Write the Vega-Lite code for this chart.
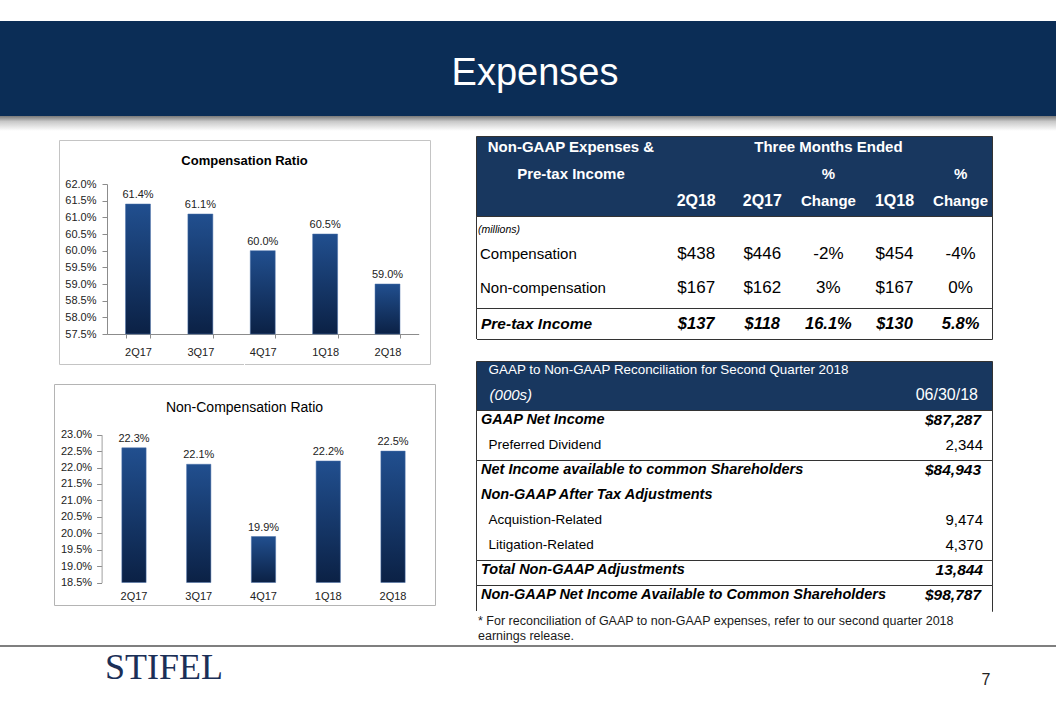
{
  "$schema": "https://vega.github.io/schema/vega-lite/v6.json",
  "padding": 0,
  "background": "white",
  "spacing": 0,
  "config": {
    "font": "Liberation Sans",
    "view": {"stroke": null},
    "concat": {"spacing": 0},
    "axis": {"grid": false}
  },
  "vconcat": [
    {
      "width": 1056,
      "height": 135,
      "data": {"values": [{"title": "Expenses"}]},
      "layer": [
        {
          "mark": {
            "type": "rect",
            "color": {
              "gradient": "linear", "x1": 0, "y1": 0, "x2": 0, "y2": 1,
              "stops": [
                {"offset": 0, "color": "#ffffff"},
                {"offset": 0.155, "color": "#ffffff"},
                {"offset": 0.157, "color": "#0b2d56"},
                {"offset": 0.857, "color": "#0b2d56"},
                {"offset": 0.86, "color": "#7a7a7a"},
                {"offset": 0.9, "color": "#c8c8c8"},
                {"offset": 0.97, "color": "#ffffff"},
                {"offset": 1, "color": "#ffffff"}
              ]
            }
          },
          "encoding": {}
        },
        {
          "mark": {"type": "text", "fontSize": 38, "color": "#ffffff", "baseline": "alphabetic", "dy": 17.5, "dx": 7},
          "encoding": {"text": {"field": "title"}}
        }
      ]
    },
    {
      "hconcat": [
        {"width": 14, "height": 1, "view": {"fill": "#ffffff"}, "data": {"values": []}, "mark": "point"},
        {
          "vconcat": [
            {"width": 1, "height": 4, "view": {"fill": "#ffffff"}, "data": {"values": []}, "mark": "point"},
            {
              "width": 371,
              "height": 224,
              "view": {"stroke": "#c4c4c4", "strokeWidth": 1},
              "title": {"text": "Compensation Ratio", "fontSize": 13, "fontWeight": "bold", "offset": -34, "baseline": "middle", "color": "#000000", "anchor": "middle"},
              "data": {"values": [
                {"quarter": "2Q17", "ratio": 61.4, "label": "61.4%"},
                {"quarter": "3Q17", "ratio": 61.1, "label": "61.1%"},
                {"quarter": "4Q17", "ratio": 60.0, "label": "60.0%"},
                {"quarter": "1Q18", "ratio": 60.5, "label": "60.5%"},
                {"quarter": "2Q18", "ratio": 59.0, "label": "59.0%"}
              ]},
              "encoding": {
                "x": {
                  "field": "quarter", "type": "ordinal", "sort": null,
                  "scale": {"range": [47.8, 359.7], "paddingInner": 0.6, "paddingOuter": 0.3},
                  "axis": {"orient": "bottom", "offset": -30, "title": null, "labelAngle": 0, "domainColor": "#8c8c8c", "tickColor": "#8c8c8c", "tickSize": 4, "tickBand": "extent", "labelPadding": 8, "labelFontSize": 11, "labelColor": "#222222"}
                },
                "y": {
                  "field": "ratio", "type": "quantitative",
                  "scale": {"domain": [57.5, 62], "range": [194, 44], "zero": false, "nice": false},
                  "axis": {"orient": "left", "offset": -48, "title": null, "values": [57.5, 58, 58.5, 59, 59.5, 60, 60.5, 61, 61.5, 62], "labelExpr": "format(datum.value, '.1f') + '%'", "domainColor": "#8c8c8c", "tickColor": "#8c8c8c", "tickSize": 5, "labelPadding": 6, "labelFontSize": 11, "labelColor": "#222222", "grid": false}
                }
              },
              "layer": [
                {
                  "mark": {
                    "type": "bar", "stroke": "#4a70aa", "strokeWidth": 0.5,
                    "color": {"gradient": "linear", "x1": 0, "y1": 0, "x2": 0, "y2": 1, "stops": [{"offset": 0, "color": "#214f8f"}, {"offset": 1, "color": "#0b2145"}]}
                  },
                  "encoding": {"y2": {"datum": 57.5}}
                },
                {
                  "mark": {"type": "text", "baseline": "bottom", "dy": -4, "fontSize": 11, "color": "#222222"},
                  "encoding": {"text": {"field": "label"}}
                }
              ]
            },
            {"width": 1, "height": 20, "view": {"fill": "#ffffff"}, "data": {"values": []}, "mark": "point"},
            {
              "width": 381,
              "height": 221,
              "view": {"stroke": "#b4b4b4", "strokeWidth": 1},
              "title": {"text": "Non-Compensation Ratio", "fontSize": 14, "fontWeight": "normal", "offset": -38, "baseline": "middle", "color": "#000000", "anchor": "middle"},
              "data": {"values": [
                {"quarter": "2Q17", "ratio": 22.6, "label": "22.3%"},
                {"quarter": "3Q17", "ratio": 22.1, "label": "22.1%"},
                {"quarter": "4Q17", "ratio": 19.9, "label": "19.9%"},
                {"quarter": "1Q18", "ratio": 22.2, "label": "22.2%"},
                {"quarter": "2Q18", "ratio": 22.5, "label": "22.5%"}
              ]},
              "encoding": {
                "x": {
                  "field": "quarter", "type": "ordinal", "sort": null,
                  "scale": {"range": [47.6, 371.4], "paddingInner": 0.625, "paddingOuter": 0.3125},
                  "axis": {"orient": "bottom", "offset": -22.5, "title": null, "labelAngle": 0, "domain": false, "ticks": false, "labelPadding": 7.5, "labelFontSize": 11, "labelColor": "#222222"}
                },
                "y": {
                  "field": "ratio", "type": "quantitative",
                  "scale": {"domain": [18.5, 23], "range": [198.5, 50.7], "zero": false, "nice": false},
                  "axis": {"orient": "left", "offset": -47.6, "title": null, "values": [18.5, 19, 19.5, 20, 20.5, 21, 21.5, 22, 22.5, 23], "labelExpr": "format(datum.value, '.1f') + '%'", "domainColor": "#a0a0a0", "tickColor": "#8c8c8c", "tickSize": 5, "labelPadding": 5, "labelFontSize": 11, "labelColor": "#222222", "grid": false}
                }
              },
              "layer": [
                {
                  "mark": {
                    "type": "bar", "stroke": "#4a70aa", "strokeWidth": 0.5,
                    "color": {"gradient": "linear", "x1": 0, "y1": 0, "x2": 0, "y2": 1, "stops": [{"offset": 0, "color": "#214f8f"}, {"offset": 1, "color": "#0b2145"}]}
                  },
                  "encoding": {"y2": {"datum": 18.5}}
                },
                {
                  "mark": {"type": "text", "baseline": "bottom", "dy": -4, "fontSize": 11, "color": "#222222"},
                  "encoding": {"text": {"field": "label"}}
                }
              ]
            }
          ],
          "spacing": 0,
          "bounds": "flush",
          "center": true
        },
        {
          "vconcat": [
            {
              "width": 516,
              "height": 80,
              "view": {"fill": "#18375f", "stroke": "#333333"},
              "resolve": {"scale": {"x": "independent"}},
              "layer": [
                {
                  "data": {"values": [{"row": "h1", "text": "Non-GAAP Expenses &"}, {"row": "h2", "text": "Pre-tax Income"}]},
                  "mark": {"type": "text", "fontSize": 15, "fontWeight": "bold", "color": "#ffffff", "dy": -2},
                  "encoding": {
                    "x": {"datum": "lab", "type": "nominal", "scale": {"type": "point", "domain": ["lab"], "padding": 0, "align": 0.184}, "axis": null},
                    "y": {"field": "row", "type": "ordinal", "scale": {"domain": ["h1", "h2", "h3"]}, "axis": null},
                    "text": {"field": "text"}
                  }
                },
                {
                  "data": {"values": [
                    {"row": "h1", "col": "chg1", "text": "Three Months Ended"},
                    {"row": "h2", "col": "chg1", "text": "%"},
                    {"row": "h2", "col": "chg2", "text": "%"},
                    {"row": "h3", "col": "chg1", "text": "Change"},
                    {"row": "h3", "col": "chg2", "text": "Change"}
                  ]},
                  "mark": {"type": "text", "fontSize": 15, "fontWeight": "bold", "color": "#ffffff", "dy": -2},
                  "encoding": {
                    "x": {"field": "col", "type": "nominal", "scale": {"type": "point", "domain": ["_a", "_b", "q2_18", "q2_17", "chg1", "q1_18", "chg2"], "padding": 0.903, "align": 0.737}, "axis": null},
                    "y": {"field": "row", "type": "ordinal", "scale": {"domain": ["h1", "h2", "h3"]}, "axis": null},
                    "text": {"field": "text"}
                  }
                },
                {
                  "data": {"values": [
                    {"row": "h3", "col": "q2_18", "text": "2Q18"},
                    {"row": "h3", "col": "q2_17", "text": "2Q17"},
                    {"row": "h3", "col": "q1_18", "text": "1Q18"}
                  ]},
                  "mark": {"type": "text", "fontSize": 16, "fontWeight": "bold", "color": "#ffffff", "dy": -2},
                  "encoding": {
                    "x": {"field": "col", "type": "nominal", "scale": {"type": "point", "domain": ["_a", "_b", "q2_18", "q2_17", "chg1", "q1_18", "chg2"], "padding": 0.903, "align": 0.737}, "axis": null},
                    "y": {"field": "row", "type": "ordinal", "scale": {"domain": ["h1", "h2", "h3"]}, "axis": null},
                    "text": {"field": "text"}
                  }
                }
              ]
            },
            {
              "width": 516,
              "height": 92,
              "view": {"stroke": "#333333"},
              "resolve": {"scale": {"x": "independent"}},
              "layer": [
                {
                  "data": {"values": [{"row": "m", "text": "(millions)"}]},
                  "mark": {"type": "text", "align": "left", "fontSize": 10.5, "fontStyle": "italic", "color": "#000000", "dx": 2, "dy": 10},
                  "encoding": {
                    "x": {"datum": "lab", "type": "nominal", "scale": {"type": "point", "domain": ["lab"], "padding": 0, "align": 0}, "axis": null},
                    "y": {"field": "row", "type": "ordinal", "scale": {"type": "point", "domain": ["m", "comp", "noncomp"], "padding": 0.353, "align": 0.1667}, "axis": null},
                    "text": {"field": "text"}
                  }
                },
                {
                  "data": {"values": [{"row": "comp", "text": "Compensation"}, {"row": "noncomp", "text": "Non-compensation"}]},
                  "mark": {"type": "text", "align": "left", "fontSize": 15, "color": "#000000", "dx": 4},
                  "encoding": {
                    "x": {"datum": "lab", "type": "nominal", "scale": {"type": "point", "domain": ["lab"], "padding": 0, "align": 0}, "axis": null},
                    "y": {"field": "row", "type": "ordinal", "scale": {"type": "point", "domain": ["m", "comp", "noncomp"], "padding": 0.353, "align": 0.1667}, "axis": null},
                    "text": {"field": "text"}
                  }
                },
                {
                  "data": {"values": [
                    {"row": "comp", "col": "q2_18", "text": "$438"},
                    {"row": "comp", "col": "q2_17", "text": "$446"},
                    {"row": "comp", "col": "chg1", "text": "-2%"},
                    {"row": "comp", "col": "q1_18", "text": "$454"},
                    {"row": "comp", "col": "chg2", "text": "-4%"},
                    {"row": "noncomp", "col": "q2_18", "text": "$167"},
                    {"row": "noncomp", "col": "q2_17", "text": "$162"},
                    {"row": "noncomp", "col": "chg1", "text": "3%"},
                    {"row": "noncomp", "col": "q1_18", "text": "$167"},
                    {"row": "noncomp", "col": "chg2", "text": "0%"}
                  ]},
                  "mark": {"type": "text", "fontSize": 17, "color": "#000000"},
                  "encoding": {
                    "x": {"field": "col", "type": "nominal", "scale": {"type": "point", "domain": ["_a", "_b", "q2_18", "q2_17", "chg1", "q1_18", "chg2"], "padding": 0.903, "align": 0.737}, "axis": null},
                    "y": {"field": "row", "type": "ordinal", "scale": {"type": "point", "domain": ["m", "comp", "noncomp"], "padding": 0.353, "align": 0.1667}, "axis": null},
                    "text": {"field": "text"}
                  }
                }
              ]
            },
            {
              "width": 516,
              "height": 31,
              "view": {"stroke": "#333333"},
              "resolve": {"scale": {"x": "independent"}},
              "layer": [
                {
                  "data": {"values": [{"text": "Pre-tax Income"}]},
                  "mark": {"type": "text", "align": "left", "fontSize": 15.5, "fontWeight": "bold", "fontStyle": "italic", "color": "#000000", "dx": 5},
                  "encoding": {
                    "x": {"datum": "lab", "type": "nominal", "scale": {"type": "point", "domain": ["lab"], "padding": 0, "align": 0}, "axis": null},
                    "text": {"field": "text"}
                  }
                },
                {
                  "data": {"values": [
                    {"col": "q2_18", "text": "$137"},
                    {"col": "q2_17", "text": "$118"},
                    {"col": "chg1", "text": "16.1%"},
                    {"col": "q1_18", "text": "$130"},
                    {"col": "chg2", "text": "5.8%"}
                  ]},
                  "mark": {"type": "text", "fontSize": 16.5, "fontWeight": "bold", "fontStyle": "italic", "color": "#000000"},
                  "encoding": {
                    "x": {"field": "col", "type": "nominal", "scale": {"type": "point", "domain": ["_a", "_b", "q2_18", "q2_17", "chg1", "q1_18", "chg2"], "padding": 0.903, "align": 0.737}, "axis": null},
                    "text": {"field": "text"}
                  }
                }
              ]
            },
            {"width": 1, "height": 22, "view": {"fill": "#ffffff"}, "data": {"values": []}, "mark": "point"},
            {
              "width": 516,
              "height": 49,
              "view": {"fill": "#18375f", "stroke": "#333333"},
              "data": {"values": [
                {"row": "t", "pos": "label", "style": "title", "text": "GAAP to Non-GAAP Reconciliation for Second Quarter 2018"},
                {"row": "s", "pos": "label", "style": "unit", "text": "(000s)"},
                {"row": "s", "pos": "value", "style": "date", "text": "06/30/18"}
              ]},
              "encoding": {
                "x": {"field": "pos", "type": "nominal", "scale": {"type": "point", "domain": ["label", "value"], "padding": 0}, "axis": null},
                "y": {"field": "row", "type": "ordinal", "scale": {"domain": ["t", "s"]}, "axis": null},
                "text": {"field": "text"}
              },
              "layer": [
                {"transform": [{"filter": "datum.style == 'title'"}], "mark": {"type": "text", "align": "left", "dx": 12.6, "dy": -3, "fontSize": 13.4, "color": "#ffffff"}},
                {"transform": [{"filter": "datum.style == 'unit'"}], "mark": {"type": "text", "align": "left", "dx": 13.6, "dy": -3, "fontSize": 15, "fontStyle": "italic", "color": "#ffffff"}},
                {"transform": [{"filter": "datum.style == 'date'"}], "mark": {"type": "text", "align": "right", "dx": -14, "dy": -3, "fontSize": 16, "color": "#ffffff"}}
              ]
            },
            {
              "width": 516,
              "height": 50,
              "view": {"stroke": "#333333"},
              "data": {"values": [
                {"item": "GAAP Net Income", "style": "b", "value": "$87,287"},
                {"item": "Preferred Dividend", "style": "r", "value": "2,344"}
              ]},
              "encoding": {"y": {"field": "item", "type": "ordinal", "scale": {"domain": ["GAAP Net Income", "Preferred Dividend"]}, "axis": null}},
              "layer": [
                {"transform": [{"filter": "datum.style == 'b'"}], "mark": {"type": "text", "align": "left", "dx": 5, "dy": -2.5, "fontSize": 14.5, "fontWeight": "bold", "fontStyle": "italic", "color": "#000000"}, "encoding": {"x": {"datum": "label", "type": "nominal", "scale": {"type": "point", "domain": ["label", "value"], "padding": 0}, "axis": null}, "text": {"field": "item"}}},
                {"transform": [{"filter": "datum.style == 'r'"}], "mark": {"type": "text", "align": "left", "dx": 12.6, "dy": -2.5, "fontSize": 13.5, "color": "#000000"}, "encoding": {"x": {"datum": "label", "type": "nominal", "scale": {"type": "point", "domain": ["label", "value"], "padding": 0}, "axis": null}, "text": {"field": "item"}}},
                {"transform": [{"filter": "datum.style == 'b'"}], "mark": {"type": "text", "align": "right", "dx": -11, "dy": -2.5, "fontSize": 15.5, "fontWeight": "bold", "fontStyle": "italic", "color": "#000000"}, "encoding": {"x": {"datum": "value", "type": "nominal", "scale": {"type": "point", "domain": ["label", "value"], "padding": 0}, "axis": null}, "text": {"field": "value"}}},
                {"transform": [{"filter": "datum.style == 'r'"}], "mark": {"type": "text", "align": "right", "dx": -9, "dy": -2.5, "fontSize": 15, "color": "#000000"}, "encoding": {"x": {"datum": "value", "type": "nominal", "scale": {"type": "point", "domain": ["label", "value"], "padding": 0}, "axis": null}, "text": {"field": "value"}}}
              ]
            },
            {
              "width": 516,
              "height": 100,
              "view": {"stroke": "#333333"},
              "data": {"values": [
                {"item": "Net Income available to common Shareholders", "style": "b", "value": "$84,943"},
                {"item": "Non-GAAP After Tax Adjustments", "style": "b", "value": ""},
                {"item": "Acquistion-Related", "style": "r", "value": "9,474"},
                {"item": "Litigation-Related", "style": "r", "value": "4,370"}
              ]},
              "encoding": {"y": {"field": "item", "type": "ordinal", "scale": {"domain": ["Net Income available to common Shareholders", "Non-GAAP After Tax Adjustments", "Acquistion-Related", "Litigation-Related"]}, "axis": null}},
              "layer": [
                {"transform": [{"filter": "datum.style == 'b'"}], "mark": {"type": "text", "align": "left", "dx": 5, "dy": -2.5, "fontSize": 14.5, "fontWeight": "bold", "fontStyle": "italic", "color": "#000000"}, "encoding": {"x": {"datum": "label", "type": "nominal", "scale": {"type": "point", "domain": ["label", "value"], "padding": 0}, "axis": null}, "text": {"field": "item"}}},
                {"transform": [{"filter": "datum.style == 'r'"}], "mark": {"type": "text", "align": "left", "dx": 12.6, "dy": -2.5, "fontSize": 13.5, "color": "#000000"}, "encoding": {"x": {"datum": "label", "type": "nominal", "scale": {"type": "point", "domain": ["label", "value"], "padding": 0}, "axis": null}, "text": {"field": "item"}}},
                {"transform": [{"filter": "datum.style == 'b'"}], "mark": {"type": "text", "align": "right", "dx": -11, "dy": -2.5, "fontSize": 15.5, "fontWeight": "bold", "fontStyle": "italic", "color": "#000000"}, "encoding": {"x": {"datum": "value", "type": "nominal", "scale": {"type": "point", "domain": ["label", "value"], "padding": 0}, "axis": null}, "text": {"field": "value"}}},
                {"transform": [{"filter": "datum.style == 'r'"}], "mark": {"type": "text", "align": "right", "dx": -9, "dy": -2.5, "fontSize": 15, "color": "#000000"}, "encoding": {"x": {"datum": "value", "type": "nominal", "scale": {"type": "point", "domain": ["label", "value"], "padding": 0}, "axis": null}, "text": {"field": "value"}}}
              ]
            },
            {
              "width": 516,
              "height": 25,
              "view": {"stroke": "#333333"},
              "data": {"values": [
                {"item": "Total Non-GAAP Adjustments", "style": "b", "value": "13,844"}
              ]},
              "encoding": {"y": {"field": "item", "type": "ordinal", "scale": {"domain": ["Total Non-GAAP Adjustments"]}, "axis": null}},
              "layer": [
                {"mark": {"type": "text", "align": "left", "dx": 5, "dy": -2.5, "fontSize": 14.5, "fontWeight": "bold", "fontStyle": "italic", "color": "#000000"}, "encoding": {"x": {"datum": "label", "type": "nominal", "scale": {"type": "point", "domain": ["label", "value"], "padding": 0}, "axis": null}, "text": {"field": "item"}}},
                {"mark": {"type": "text", "align": "right", "dx": -9, "dy": -2.5, "fontSize": 15.5, "fontWeight": "bold", "fontStyle": "italic", "color": "#000000"}, "encoding": {"x": {"datum": "value", "type": "nominal", "scale": {"type": "point", "domain": ["label", "value"], "padding": 0}, "axis": null}, "text": {"field": "value"}}}
              ]
            },
            {
              "width": 516,
              "height": 26,
              "view": {"stroke": "#333333"},
              "data": {"values": [
                {"item": "Non-GAAP Net Income Available to Common Shareholders", "style": "b", "value": "$98,787"}
              ]},
              "encoding": {"y": {"field": "item", "type": "ordinal", "scale": {"domain": ["Non-GAAP Net Income Available to Common Shareholders"]}, "axis": null}},
              "layer": [
                {"mark": {"type": "text", "align": "left", "dx": 5, "dy": -3, "fontSize": 14.5, "fontWeight": "bold", "fontStyle": "italic", "color": "#000000"}, "encoding": {"x": {"datum": "label", "type": "nominal", "scale": {"type": "point", "domain": ["label", "value"], "padding": 0}, "axis": null}, "text": {"field": "item"}}},
                {"mark": {"type": "text", "align": "right", "dx": -11, "dy": -3, "fontSize": 15.5, "fontWeight": "bold", "fontStyle": "italic", "color": "#000000"}, "encoding": {"x": {"datum": "value", "type": "nominal", "scale": {"type": "point", "domain": ["label", "value"], "padding": 0}, "axis": null}, "text": {"field": "value"}}}
              ]
            },
            {
              "width": 516,
              "height": 30,
              "view": {"fill": "#ffffff"},
              "data": {"values": [
                {"line": "1", "text": "* For reconciliation of GAAP to non-GAAP expenses, refer to our second quarter 2018"},
                {"line": "2", "text": "earnings release."}
              ]},
              "mark": {"type": "text", "align": "left", "dx": 2, "dy": 2, "fontSize": 12.5, "color": "#1a1a1a"},
              "encoding": {
                "x": {"datum": "label", "type": "nominal", "scale": {"type": "point", "domain": ["label"], "padding": 0, "align": 0}, "axis": null},
                "y": {"field": "line", "type": "ordinal", "axis": null},
                "text": {"field": "text"}
              }
            }
          ],
          "spacing": 0,
          "bounds": "flush"
        }
      ],
      "spacing": 39
    },
    {"width": 1, "height": 3, "view": {"fill": "#ffffff"}, "data": {"values": []}, "mark": "point"},
    {"width": 1056, "height": 2, "view": {"fill": "#7f7f7f", "stroke": null}, "data": {"values": []}, "mark": "point"},
    {
      "width": 1056,
      "height": 59,
      "view": {"fill": "#ffffff"},
      "data": {"values": [{"part": "logo", "text": "STIFEL"}, {"part": "page", "text": "7"}]},
      "encoding": {
        "x": {"field": "part", "type": "nominal", "scale": {"type": "point", "domain": ["logo", "page"], "padding": 0.0993, "align": 0.6}, "axis": null},
        "text": {"field": "text"}
      },
      "layer": [
        {"transform": [{"filter": "datum.part == 'logo'"}], "mark": {"type": "text", "align": "left", "baseline": "alphabetic", "dy": 2.5, "font": "Liberation Serif", "fontSize": 36, "color": "#1b2f57"}},
        {"transform": [{"filter": "datum.part == 'page'"}], "mark": {"type": "text", "align": "center", "baseline": "alphabetic", "dy": 8.5, "fontSize": 16, "color": "#222222"}}
      ]
    }
  ]
}
